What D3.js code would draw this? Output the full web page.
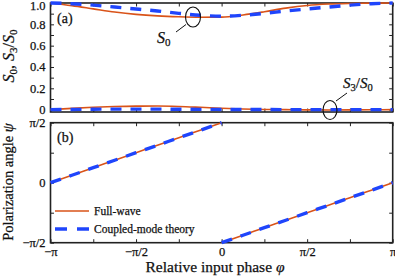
<!DOCTYPE html>
<html><head><meta charset="utf-8">
<script src="https://cdn.jsdelivr.net/npm/d3@7"></script>
<style>
body{margin:0;background:#fff}
svg{display:block}
text{font-family:"Liberation Serif","DejaVu Serif",serif;fill:#111;stroke:#111;stroke-width:0.25px}
</style>
</head><body>
<svg id="c" width="395" height="277"></svg>
<script>
// phase in units of pi
const phiGrid = [-1,-0.875,-0.75,-0.625,-0.5,-0.375,-0.25,-0.125,0,0.125,0.25,0.375,0.5,0.625,0.75,0.875,1];
const s0Full  = [1.000,0.975,0.945,0.915,0.893,0.879,0.871,0.867,0.868,0.888,0.918,0.952,0.977,0.990,0.996,0.999,1.000];
const s0Cmt   = [1.000,0.993,0.980,0.962,0.944,0.925,0.903,0.885,0.876,0.885,0.903,0.925,0.944,0.962,0.980,0.993,1.000];
const s3Full  = [0.000,0.012,0.022,0.029,0.033,0.034,0.030,0.022,0.013,0.006,0.002,0.000,-0.002,-0.003,-0.002,-0.001,0.000];
const s3Cmt   = [0.000,0.002,0.004,0.005,0.005,0.005,0.004,0.003,0.002,0.001,0.001,0.000,0.000,0.000,0.000,0.000,0.000];
// polarization angle, units of pi, two branches
const psiPhiLeft  = [-1,-0.875,-0.75,-0.625,-0.5,-0.375,-0.25,-0.125,0];
const psiFullLeft = [0,0.063,0.125,0.188,0.25,0.313,0.375,0.438,0.5];
const psiCmtLeft  = [0,0.062,0.125,0.187,0.25,0.312,0.375,0.437,0.5];
const psiPhiRight  = [0,0.125,0.25,0.375,0.5,0.625,0.75,0.875,1];
const psiFullRight = [-0.5,-0.437,-0.375,-0.312,-0.25,-0.187,-0.125,-0.062,0];
const psiCmtRight  = [-0.5,-0.438,-0.375,-0.313,-0.25,-0.188,-0.125,-0.063,0];
const xTickLabels = {"-1":"\u2212\u03c0","-0.5":"\u2212\u03c0/2","0":"0","0.5":"\u03c0/2","1":"\u03c0"};
const yTicksA = [0,0.2,0.4,0.6,0.8,1.0];
const yTickLabelsA = ["0","0.2","0.4","0.6","0.8","1.0"];
const yTickLabelsB = {"-0.5":"\u2212\u03c0/2","0":"0","0.5":"\u03c0/2"};

const ORANGE = "#d95319", BLUE = "#1f45fc";
const svg = d3.select("#c");
const L = 50.5, R = 392.7;
const aTop = 3, aBot = 112, bTop = 122.7, bBot = 242.7;

const x = d3.scaleLinear().domain([-1,1]).range([L,R]);
const ya = d3.scaleLinear().domain([-0.022,1.0]).range([aBot,aTop]);
const yb = d3.scaleLinear().domain([-0.5,0.5]).range([bBot,bTop]);

const xMinor = d3.range(-1,1.0001,0.25).map(v=>+v.toFixed(3));
function fmtX(v){ const k = String(+v.toFixed(3)); return xTickLabels[k] ?? ""; }

function styleAxis(g){
  g.select(".domain").remove();
  g.selectAll(".tick line").attr("stroke","#222").attr("stroke-width",1);
  g.selectAll("text").style("font-size","12.5px").attr("fill","#111");
}
// panel a axes
svg.append("g").attr("transform",`translate(0,${aBot})`)
  .call(d3.axisBottom(x).tickValues(xMinor).tickFormat("").tickSizeInner(-3.5).tickSizeOuter(0)).call(styleAxis);
svg.append("g").attr("transform",`translate(0,${aTop})`)
  .call(d3.axisTop(x).tickValues(xMinor).tickFormat("").tickSizeInner(-3.5).tickSizeOuter(0)).call(styleAxis);
const yAll = d3.range(0,1.0001,0.1);
const gya = svg.append("g").attr("transform",`translate(${L},0)`)
  .call(d3.axisLeft(ya).tickValues(yAll).tickFormat(v=>{const i=yTicksA.findIndex(t=>Math.abs(t-v)<1e-6);return i>=0?yTickLabelsA[i]:"";}).tickSizeInner(-3.5).tickSizeOuter(0).tickPadding(5)).call(styleAxis);
gya.selectAll(".tick text").filter(d=>Math.abs(d-1)<1e-6).attr("dy","0.55em");
svg.append("g").attr("transform",`translate(${R},0)`)
  .call(d3.axisRight(ya).tickValues(yAll).tickFormat("").tickSizeInner(-3.5).tickSizeOuter(0)).call(styleAxis);
// panel b axes
svg.append("g").attr("transform",`translate(0,${bBot})`)
  .call(d3.axisBottom(x).tickValues(xMinor).tickFormat(fmtX).tickSizeInner(-3.5).tickSizeOuter(0).tickPadding(4)).call(styleAxis);
svg.append("g").attr("transform",`translate(0,${bTop})`)
  .call(d3.axisTop(x).tickValues(xMinor).tickFormat("").tickSizeInner(-3.5).tickSizeOuter(0)).call(styleAxis);
const yBT = [-0.5,-0.25,0,0.25,0.5];
svg.append("g").attr("transform",`translate(${L},0)`)
  .call(d3.axisLeft(yb).tickValues(yBT).tickFormat(v=>yTickLabelsB[String(v)] ?? "").tickSizeInner(-3.5).tickSizeOuter(0).tickPadding(5)).call(styleAxis);
svg.append("g").attr("transform",`translate(${R},0)`)
  .call(d3.axisRight(yb).tickValues(yBT).tickFormat("").tickSizeInner(-3.5).tickSizeOuter(0)).call(styleAxis);

// frames
[[aTop,aBot],[bTop,bBot]].forEach(([t,b])=>{
  svg.append("rect").attr("x",L).attr("y",t).attr("width",R-L).attr("height",b-t)
    .attr("fill","none").attr("stroke","#222").attr("stroke-width",1.6);
});

// curves
function draw(xs, ys, yScale, color, dashed){
  const line = d3.line().x((d,i)=>x(xs[i])).y(d=>yScale(d)).curve(d3.curveMonotoneX);
  svg.append("path").datum(ys).attr("d",line).attr("fill","none")
    .attr("stroke",color).attr("stroke-width",dashed?3.4:1.6)
    .attr("stroke-dasharray",dashed?"11,9":null);
}
draw(phiGrid,s0Full,ya,ORANGE,false);
draw(phiGrid,s3Full,ya,ORANGE,false);
draw(psiPhiLeft,psiFullLeft,yb,ORANGE,false);
draw(psiPhiRight,psiFullRight,yb,ORANGE,false);
draw(phiGrid,s0Cmt,ya,BLUE,true);
draw(phiGrid,s3Cmt,ya,BLUE,true);
draw(psiPhiLeft,psiCmtLeft,yb,BLUE,true);
draw(psiPhiRight,psiCmtRight,yb,BLUE,true);

// panel labels
svg.append("text").attr("x",57).attr("y",23).style("font-size","14px").text("(a)");
svg.append("text").attr("x",57).attr("y",142).style("font-size","14px").text("(b)");

// annotations
svg.append("ellipse").attr("cx",193).attr("cy",17).attr("rx",7.5).attr("ry",10)
  .attr("fill","none").attr("stroke","#111").attr("stroke-width",1.1);
svg.append("line").attr("x1",186).attr("y1",24.5).attr("x2",176).attr("y2",32)
  .attr("stroke","#111").attr("stroke-width",1);
const t0 = svg.append("text").attr("x",157).attr("y",43).style("font-size","16px");
t0.append("tspan").style("font-style","italic").text("S");
t0.append("tspan").attr("dy",3).style("font-size","11px").text("0");

svg.append("ellipse").attr("cx",330).attr("cy",110).attr("rx",7).attr("ry",9.5)
  .attr("fill","none").attr("stroke","#111").attr("stroke-width",1.1);
svg.append("line").attr("x1",336).attr("y1",101).attr("x2",347).attr("y2",93)
  .attr("stroke","#111").attr("stroke-width",1);
const t3 = svg.append("text").attr("x",343).attr("y",88).style("font-size","15px");
t3.append("tspan").style("font-style","italic").text("S");
t3.append("tspan").attr("dy",3).style("font-size","10.5px").text("3");
t3.append("tspan").attr("dy",-3).text("/");
t3.append("tspan").style("font-style","italic").text("S");
t3.append("tspan").attr("dy",3).style("font-size","10.5px").text("0");

// axis titles
const yt = svg.append("text").attr("transform","translate(14,56) rotate(-90)").attr("text-anchor","middle").style("font-size","16px");
yt.append("tspan").style("font-style","italic").text("S");
yt.append("tspan").attr("dy",3).style("font-size","11px").text("0");
yt.append("tspan").attr("dy",-3).text(",  ");
yt.append("tspan").style("font-style","italic").text("S");
yt.append("tspan").attr("dy",3).style("font-size","11px").text("3");
yt.append("tspan").attr("dy",-3).text("/");
yt.append("tspan").style("font-style","italic").text("S");
yt.append("tspan").attr("dy",3).style("font-size","11px").text("0");

svg.append("text").attr("transform","translate(13,182) rotate(-90)").attr("text-anchor","middle")
  .style("font-size","14.5px").html('Polarization angle <tspan font-style="italic">\u03c8</tspan>');
svg.append("text").attr("x",215).attr("y",272).attr("text-anchor","middle")
  .style("font-size","15.5px").html('Relative input phase <tspan font-style="italic">\u03c6</tspan>');

// legend
const legend = [{name:"Full-wave",color:ORANGE,dashed:false,y:211},{name:"Coupled-mode theory",color:BLUE,dashed:true,y:229}];
legend.forEach(d=>{
  svg.append("line").attr("x1",55).attr("x2",89).attr("y1",d.y).attr("y2",d.y)
    .attr("stroke",d.color).attr("stroke-width",d.dashed?3.4:1.6).attr("stroke-dasharray",d.dashed?"12,10":null);
  svg.append("text").attr("x",94).attr("y",d.y+3.8).style("font-size","11.5px").text(d.name);
});
</script>
</body></html>
